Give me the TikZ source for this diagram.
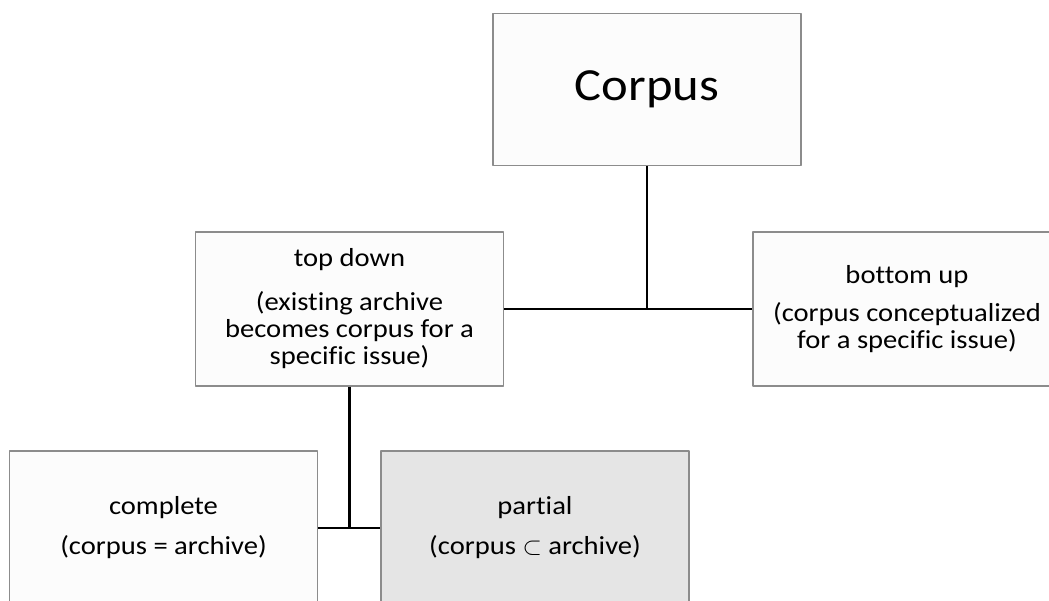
\documentclass[tikz,border=0pt]{standalone}
\usepackage{fontspec}
\setmainfont{Carlito}[FakeStretch=1.1, Ligatures=NoCommon]
\begin{document}
\begin{tikzpicture}[line join=round, x=1pt, y=-1pt]
	\tikzset{box/.style={draw=black!45, line width=1.2pt, fill=white!99!black, align=center, inner sep=0pt, minimum width=308pt, minimum height=154pt, font=\fontsize{26}{27}\selectfont},
		link/.style={line width=2.8pt}}
	\useasboundingbox (0,0) rectangle (1049,601);
	\clip (0,0) rectangle (1049,601);
	\node[box, minimum height=152pt, font=\fontsize{46}{50}\selectfont] (corpus) at (647,89.5) {Corpus};
	\node[box] (topdown) at (349.5,309) {top down\\[17pt](existing archive\\becomes corpus for a\\specific issue)};
	\node[box] (bottomup) at (907,309) {bottom up\\[11pt](corpus conceptualized\\for a specific issue)};
	\node[box] (complete) at (163.5,528) {complete\\[13pt](corpus = archive)};
	\node[box, fill=black!10] (partial) at (535,528) {partial\\[13pt](corpus $\subset$ archive)};
	\draw[link] (topdown.east) -- (bottomup.west);
	\draw[link] (corpus.south) -- (corpus.south |- topdown.east);
	\draw[link] (complete.east) -- (partial.west);
	\draw[link] (topdown.south) -- (topdown.south |- complete.east);
\end{tikzpicture}
\end{document}
